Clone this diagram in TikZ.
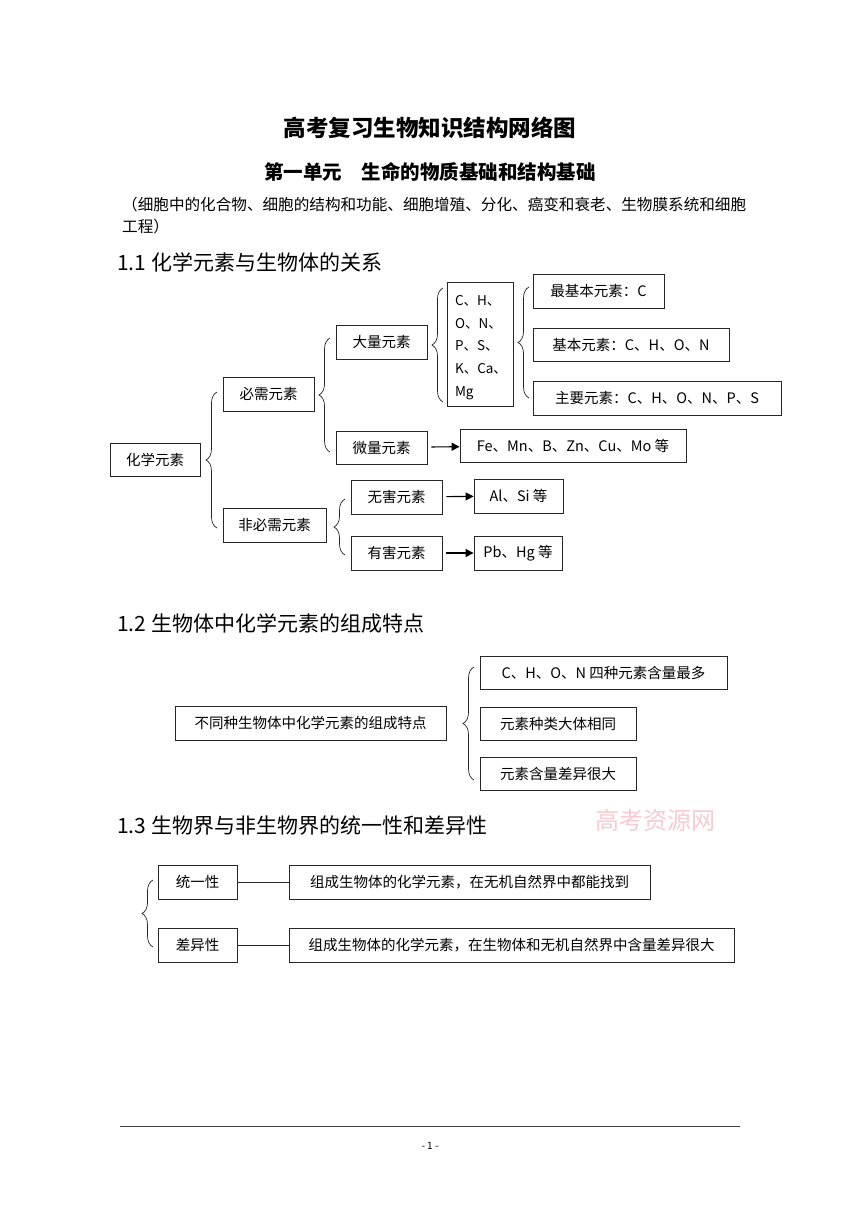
\documentclass[tikz,border=0pt]{standalone}
\usepackage{fontspec}
\setmainfont{Noto Sans CJK SC}
\usetikzlibrary{decorations.pathreplacing,arrows.meta}
\definecolor{wm}{RGB}{240,160,170}
\tikzset{
  box/.style={draw=black!85, line width=0.8pt, inner sep=0pt, align=center, font=\fontsize{14.5}{17}\selectfont},
  brc/.style={draw=black!85, line width=0.7pt, decorate, decoration={brace, amplitude=11pt}},
  arr/.style={draw=black, line width=1.1pt, -{Triangle[length=8pt,width=8pt]}, shorten <=4pt},
  lnk/.style={draw=black!85, line width=0.8pt},
  head/.style={anchor=west, inner sep=0pt, font=\fontsize{21}{25}\selectfont}
}
\begin{document}
\begin{tikzpicture}[x=1pt,y=-1pt]
\useasboundingbox (0,0) rectangle (860,1216);
\fill[white] (0,0) rectangle (860,1216);

% titles
\node[inner sep=0pt, font=\fontsize{22.5}{26}\selectfont\bfseries] (t1) at (430,128) {高考复习生物知识结构网络图};
\node[inner sep=0pt, font=\fontsize{19.5}{23}\selectfont\bfseries] (t2) at (430,172) {第一单元\hspace{1em}生命的物质基础和结构基础};
\node[anchor=west, inner sep=0pt, font=\fontsize{15.6}{18}\selectfont] (p1) at (122,205) {（细胞中的化合物、细胞的结构和功能、细胞增殖、分化、癌变和衰老、生物膜系统和细胞};
\node[anchor=west, inner sep=0pt, font=\fontsize{15.6}{18}\selectfont] (p2) at (122,227) {工程）};

% 1.1
\node[head] (h1) at (117,262) {1.1 化学元素与生物体的关系};
\node[box, minimum width=90pt, minimum height=33pt] (hx) at (155,459.5) {化学元素};
\node[box, minimum width=91pt, minimum height=34pt] (bx) at (268.5,394) {必需元素};
\node[box, minimum width=103pt, minimum height=34pt] (fbx) at (274.5,525) {非必需元素};
\node[box, minimum width=91pt, minimum height=34pt] (dl) at (381.5,342) {大量元素};
\node[box, minimum width=91pt, minimum height=33pt] (wl) at (381.5,447.5) {微量元素};
\node[box, minimum width=226pt, minimum height=33pt] (fe) at (573,445.5) {Fe、Mn、B、Zn、Cu、Mo 等};
\node[box, minimum width=66pt, minimum height=124pt, align=left, font=\fontsize{13.5}{22.6}\selectfont] (el) at (480,344.5) {};
\node[anchor=center, align=left, inner sep=0pt, font=\fontsize{13.5}{22.6}\selectfont] (elt) at (481,347.5) {C、H、\\O、N、\\P、S、\\K、Ca、\\Mg};
\node[box, minimum width=131pt, minimum height=34pt] (zjb) at (598.5,291) {最基本元素：C};
\node[box, minimum width=196pt, minimum height=33pt] (jb) at (631,344.5) {基本元素：C、H、O、N};
\node[box, minimum width=248pt, minimum height=34pt] (zy) at (657,398) {主要元素：C、H、O、N、P、S};
\node[box, minimum width=91pt, minimum height=34pt] (wh) at (396.5,497) {无害元素};
\node[box, minimum width=91pt, minimum height=34pt] (yh) at (396.5,553) {有害元素};
\node[box, minimum width=89pt, minimum height=34pt] (al) at (518.5,496) {Al、Si 等};
\node[box, minimum width=88pt, minimum height=34pt] (pb) at (518,553) {Pb、Hg 等};

\draw[brc] (217,528) -- (217,392);
\draw[brc] (330,452) -- (330,338);
\draw[brc] (443,402) -- (443,288);
\draw[brc] (529,398) -- (529,287);
\draw[brc] (345,555) -- (345,499);

\draw[arr] (wl) -- (fe);
\draw[arr] (wh) -- (al);
\draw[arr] (yh) -- (pb);

% 1.2
\node[head] (h2) at (117,623) {1.2 生物体中化学元素的组成特点};
\node[box, minimum width=271pt, minimum height=34pt] (bt) at (310.5,723) {不同种生物体中化学元素的组成特点};
\node[box, minimum width=247pt, minimum height=33pt] (c1) at (603.5,672.5) {C、H、O、N 四种元素含量最多};
\node[box, minimum width=156pt, minimum height=33pt] (c2) at (558,723.5) {元素种类大体相同};
\node[box, minimum width=156pt, minimum height=33pt] (c3) at (558,773.5) {元素含量差异很大};
\draw[brc] (474,780) -- (474,667);

% 1.3
\node[head] (h3) at (117,826) {1.3 生物界与非生物界的统一性和差异性};
\node[inner sep=0pt, text=wm, opacity=0.55, font=\fontsize{24}{26}\selectfont] (wmk) at (655,820) {高考资源网};
\node[box, minimum width=79pt, minimum height=34pt] (ty) at (197.5,882) {统一性};
\node[box, minimum width=361pt, minimum height=34pt] (ty2) at (469.5,882) {组成生物体的化学元素，在无机自然界中都能找到};
\node[box, minimum width=79pt, minimum height=34pt] (cy) at (197.5,945) {差异性};
\node[box, minimum width=445pt, minimum height=34pt] (cy2) at (511.5,945) {组成生物体的化学元素，在生物体和无机自然界中含量差异很大};
\draw[lnk] (ty) -- (ty2);
\draw[lnk] (cy) -- (cy2);
\draw[brc] (153,947) -- (153,880);

% footer
\coordinate (fl) at (120,1126);
\coordinate (fr) at (740,1126);
\draw[line width=0.8pt, black!75] (fl) -- (fr);
\node[inner sep=0pt, font=\fontsize{10}{12}\selectfont] (pg) at (430,1146) {- 1 -};
\end{tikzpicture}
\end{document}
